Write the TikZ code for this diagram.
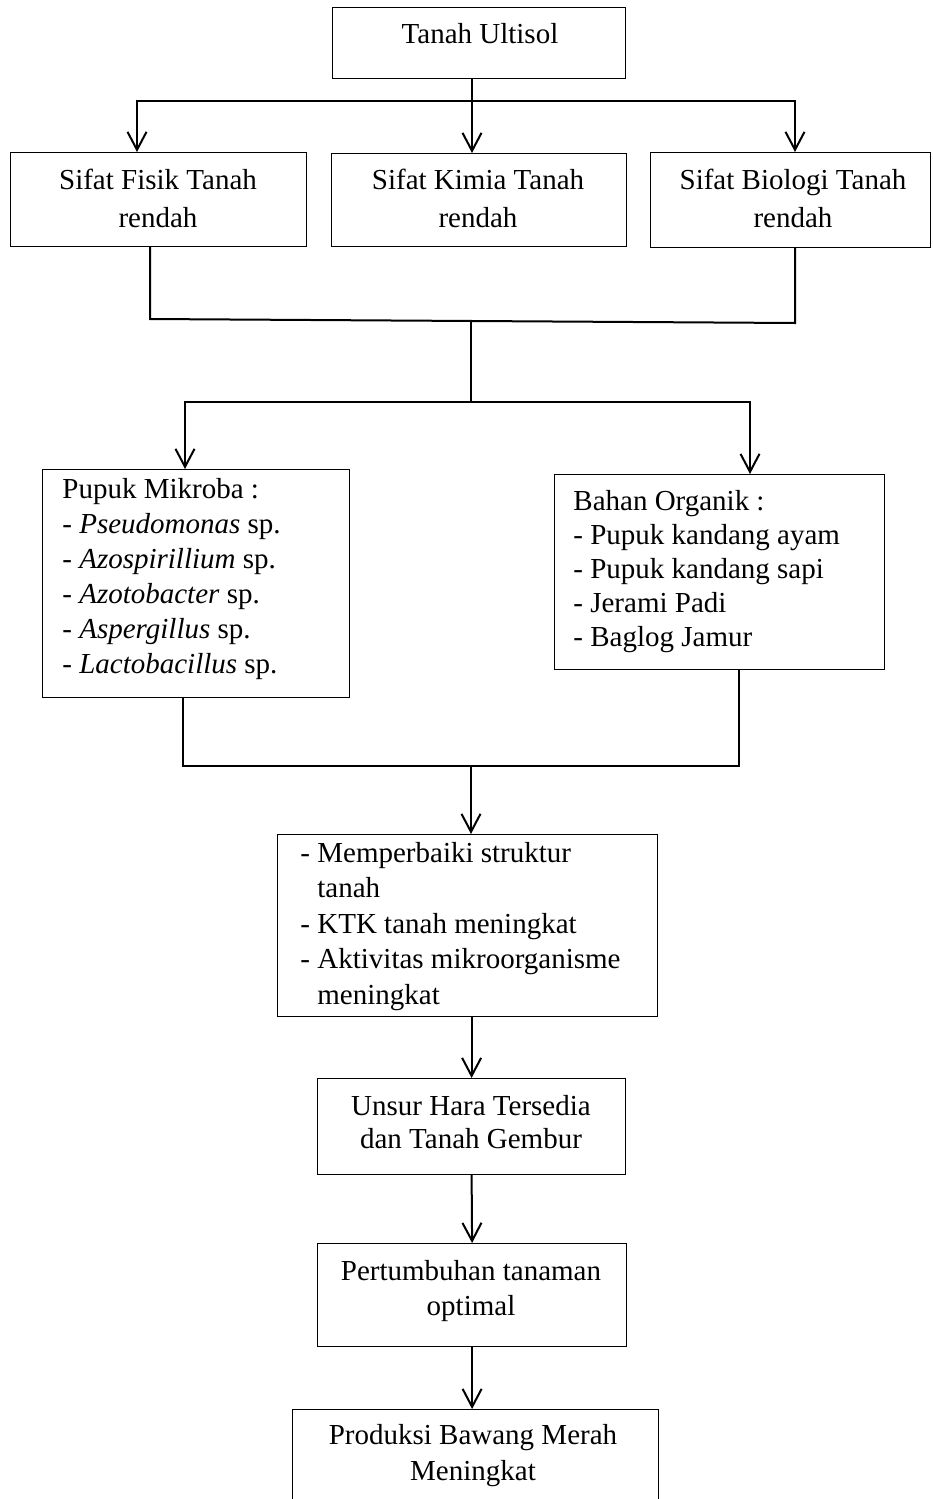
\documentclass[tikz,border=0pt]{standalone}
\usepackage{fontspec}
\setmainfont{Liberation Serif}
\usetikzlibrary{arrows.meta}

\newcommand{\dashit}{\makebox[8.5pt][l]{-}}

\begin{document}
\begin{tikzpicture}[x=0.5pt,y=-0.5pt, >={Straight Barb[length=9pt,width=9.5pt]},
  box/.style={draw, line width=0.6pt, inner sep=0pt, anchor=north west},
  txt/.style={inner sep=0pt, anchor=base, align=center, font=\fontsize{14.5}{17.5}\selectfont},
  ltxt/.style={inner sep=0pt, anchor=base west, align=left, font=\fontsize{14.5}{17.5}\selectfont},
  conn/.style={line width=1pt}]
\useasboundingbox (0,0) rectangle (932,1499);
\clip (0,0) rectangle (932,1499);

% boxes
\node (ultisol) at (332,7) [box, minimum width=146.5pt, minimum height=35.5pt] {};
\node (fisik) at (10,152) [box, minimum width=148pt, minimum height=47pt] {};
\node (kimia) at (331,153) [box, minimum width=147.5pt, minimum height=46.5pt] {};
\node (biologi) at (650,152) [box, minimum width=140pt, minimum height=47.5pt] {};
\node (mikroba) at (42,469) [box, minimum width=153.5pt, minimum height=114pt] {};
\node (organik) at (554,474) [box, minimum width=165pt, minimum height=97.5pt] {};
\node (manfaat) at (277,834) [box, minimum width=190pt, minimum height=91pt] {};
\node (hara) at (317,1078) [box, minimum width=154pt, minimum height=48pt] {};
\node (tumbuh) at (317,1243) [box, minimum width=154.5pt, minimum height=51.5pt] {};
\node (produksi) at (292,1409) [box, minimum width=183pt, minimum height=55pt] {};

% texts (placed at the baseline of the last line)
\node (t-ultisol) at (480,43) [txt] {Tanah Ultisol};
\node (t-fisik) at (158,227) [txt, font=\fontsize{14.5}{19}\selectfont] {Sifat Fisik Tanah\\rendah};
\node (t-kimia) at (478,227) [txt, font=\fontsize{14.5}{19}\selectfont] {Sifat Kimia Tanah\\rendah};
\node (t-biologi) at (793,227) [txt, font=\fontsize{14.5}{19}\selectfont] {Sifat Biologi Tanah\\rendah};
\node (t-mikroba) at (62,673) [ltxt] {Pupuk Mikroba :\\
  - \textit{Pseudomonas} sp.\\
  - \textit{Azospirillium} sp.\\
  - \textit{Azotobacter} sp.\\
  - \textit{Aspergillus} sp.\\
  - \textit{Lactobacillus} sp.};
\node (t-organik) at (573,646) [ltxt, font=\fontsize{14.5}{17}\selectfont] {Bahan Organik :\\
  - Pupuk kandang ayam\\
  - Pupuk kandang sapi\\
  - Jerami Padi\\
  - Baglog Jamur};
\node (t-manfaat) at (300,1004) [ltxt, font=\fontsize{14.5}{17.75}\selectfont] {\dashit Memperbaiki struktur\\
  \hspace*{8.5pt}tanah\\
  \dashit KTK tanah meningkat\\
  \dashit Aktivitas mikroorganisme\\
  \hspace*{8.5pt}meningkat};
\node (t-hara) at (471,1148) [txt, font=\fontsize{14.5}{16.5}\selectfont] {Unsur Hara Tersedia\\dan Tanah Gembur};
\node (t-tumbuh) at (471,1315) [txt] {Pertumbuhan tanaman\\optimal};
\node (t-produksi) at (473,1480) [txt, font=\fontsize{14.5}{18}\selectfont] {Produksi Bawang Merah\\Meningkat};

% junctions
\coordinate (topC) at (472,101);
\coordinate (topL) at (137,101);
\coordinate (topR) at (795,101);
\coordinate (m1L) at (150,319);
\coordinate (m1R) at (795,323);
\coordinate (m1) at (471,321);
\coordinate (s2) at (471,402);
\coordinate (s2L) at (185,402);
\coordinate (s2R) at (750,402);
\coordinate (m3L) at (183,766);
\coordinate (m3R) at (739,766);
\coordinate (m3) at (471,766);

% connectors
\draw[conn,->] (ultisol.south -| topC) -- (kimia.north -| topC);
\draw[conn,<->] (fisik.north -| topL) -- (topL) -- (topR) -- (biologi.north -| topR);
\draw[conn] (fisik.south -| m1L) -- (m1L) -- (m1R) -- (biologi.south -| m1R);
\draw[conn] (m1) -- (s2);
\draw[conn,<->] (mikroba.north -| s2L) -- (s2L) -- (s2R) -- (organik.north -| s2R);
\draw[conn] (mikroba.south -| m3L) -- (m3L) -- (m3R) -- (organik.south -| m3R);
\draw[conn,->] (m3) -- (manfaat.north -| m3);
\draw[conn,->] (manfaat.south -| hara.north) -- (hara.north);
\draw[conn,->] (hara.south) -- (tumbuh.north);
\draw[conn,->] (tumbuh.south) -- (produksi.north -| tumbuh.south);
\end{tikzpicture}
\end{document}
